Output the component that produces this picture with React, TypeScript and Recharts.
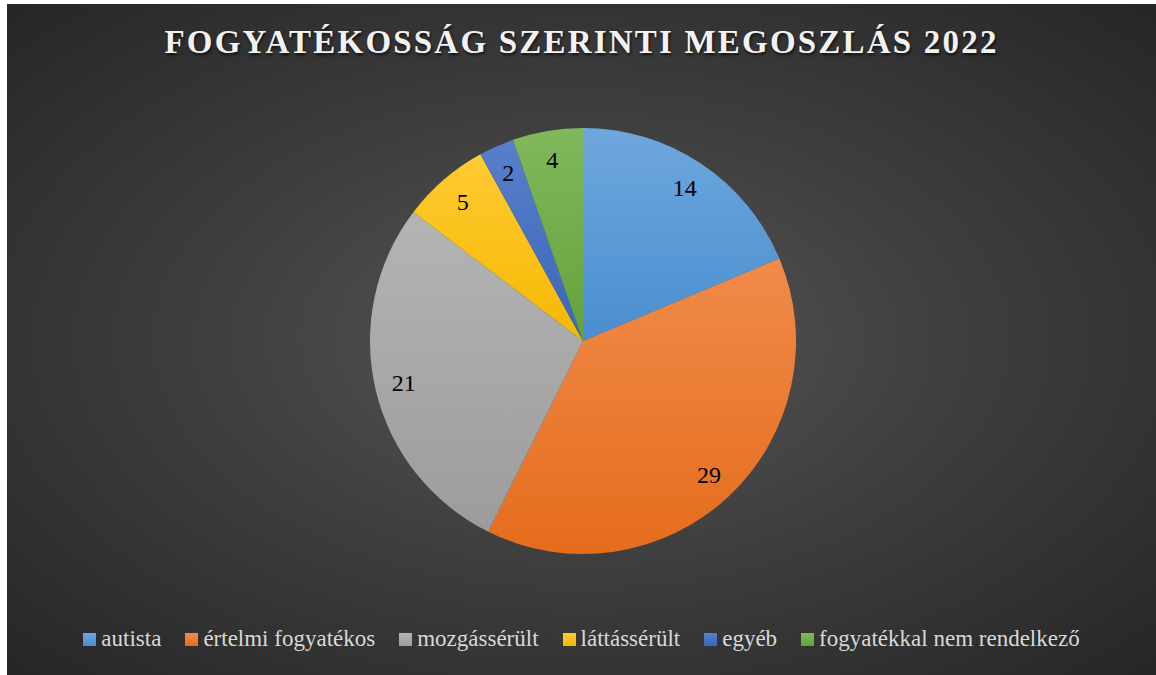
import React from "react";
import { PieChart, Pie, Cell } from "recharts";

const categories = [
  "autista",
  "értelmi fogyatékos",
  "mozgássérült",
  "láttássérült",
  "egyéb",
  "fogyatékkal nem rendelkező",
];
const counts = [14, 29, 21, 5, 2, 4];
const lightColors = ["#6EA7DD", "#F08B4A", "#B4B4B4", "#FFCA33", "#587FCB", "#80B85C"];
const darkColors = ["#4A8ED0", "#E56C1C", "#9C9C9C", "#F5B800", "#3A66B8", "#65A23A"];

const data = categories.map((name, i) => ({ name, value: counts[i] }));

const RADIAN = Math.PI / 180;
const serif = "'Liberation Serif', 'Times New Roman', serif";

const renderLabel = (props: any) => {
  const { cx, cy, midAngle, outerRadius, value } = props;
  const r = outerRadius - 29;
  const x = cx + r * Math.cos(-midAngle * RADIAN);
  const y = cy + r * Math.sin(-midAngle * RADIAN);
  return (
    <text
      x={x}
      y={y}
      fill="#000"
      textAnchor="middle"
      dominantBaseline="central"
      fontFamily="Liberation Serif"
      fontSize={24}
    >
      {value}
    </text>
  );
};

function ChartLegend() {
  return (
    <div
      style={{
        position: "absolute",
        left: 0,
        top: 622,
        width: "100%",
        display: "flex",
        justifyContent: "center",
        alignItems: "center",
        fontFamily: "Liberation Serif",
        fontSize: 23,
        color: "#D9D9D9",
      }}
    >
      {categories.map((c, i) => (
        <div
          key={c}
          style={{ display: "flex", alignItems: "center", marginRight: i < categories.length - 1 ? 24 : 0 }}
        >
          <span
            style={{
              display: "inline-block",
              width: 13,
              height: 13,
              marginRight: 5,
              background: `linear-gradient(${lightColors[i]}, ${darkColors[i]})`,
            }}
          />
          <span>{c}</span>
        </div>
      ))}
    </div>
  );
}

export default function App() {
  const W = 1149;
  const H = 671;
  return (
    <div
      style={{
        position: "absolute",
        left: 7,
        top: 4,
        width: W,
        height: H,
        fontFamily: serif,
        background: "radial-gradient(ellipse at 50% 50%, #575757 0%, #3f3f3f 45%, #262626 100%)",
        overflow: "hidden",
      }}
    >
      <div
        style={{
          position: "absolute",
          top: 20,
          left: 0,
          width: W,
          textAlign: "center",
          fontWeight: "bold",
          fontSize: 33,
          letterSpacing: 2.2,
          color: "#F2F2F2",
          textShadow: "1px 2px 3px rgba(0,0,0,0.7)",
        }}
      >
        FOGYATÉKOSSÁG SZERINTI MEGOSZLÁS 2022
      </div>
      <PieChart
        width={W}
        height={H}
        margin={{ top: 0, right: 0, bottom: 0, left: 0 }}
        style={{ position: "absolute", left: 0, top: 0 }}
      >
        <defs>
          {lightColors.map((c, i) => (
            <linearGradient key={c} id={`grad${i}`} x1="0" y1="0" x2="0" y2="1">
              <stop offset="0%" stopColor={lightColors[i]} />
              <stop offset="100%" stopColor={darkColors[i]} />
            </linearGradient>
          ))}
        </defs>
        <Pie
          data={data}
          dataKey="value"
          nameKey="name"
          cx={576}
          cy={337}
          outerRadius={213}
          startAngle={90}
          endAngle={-270}
          stroke="none"
          label={renderLabel}
          labelLine={false}
          isAnimationActive={false}
        >
          {data.map((d, i) => (
            <Cell key={d.name} fill={`url(#grad${i})`} />
          ))}
        </Pie>
      </PieChart>
      <ChartLegend />
    </div>
  );
}
